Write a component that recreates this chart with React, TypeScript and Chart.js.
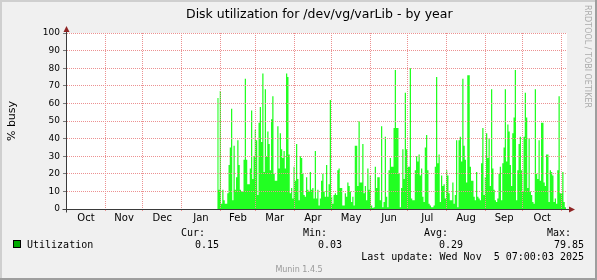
import { useEffect, useRef } from 'react';
import { Chart, registerables } from 'chart.js';

Chart.register(...registerables);

// x axis in days counted from 1 Oct 2024 00:00
const axisStartDay = 0.3;
const axisEndDay = 400.3;
const monthStarts = [0, 31, 61, 92, 123, 151, 182, 212, 243, 273, 304, 335, 365, 396];
const monthLabels = ['Oct', 'Nov', 'Dec', 'Jan', 'Feb', 'Mar', 'Apr', 'May', 'Jun', 'Jul', 'Aug', 'Sep', 'Oct'];
const yGridValues = [0, 5, 10, 15, 20, 25, 30, 35, 40, 45, 50, 55, 60, 65, 70, 75, 80, 85, 90, 95, 100];

const titleText = 'Disk utilization for /dev/vg/varLib - by year';
const yAxisTitle = '% busy';
const watermark = 'RRDTOOL / TOBI OETIKER';
const seriesName = 'Utilization';
const legendHeaders = ['Cur:', 'Min:', 'Avg:', 'Max:'];
const legendValues = ['0.15', '0.03', '0.29', '79.85'];
const lastUpdate = 'Last update: Wed Nov  5 07:00:03 2025';
const footer = 'Munin 1.4.5';

// daily values, first day = dataStartDay
const dataStartDay = 120.5;
const utilization = [
  // late Jan - Feb
  63, 11, 67, 3, 11, 5, 3, 3, 9, 25, 35, 57, 5, 36, 11, 18, 39, 25, 11, 10,
  10, 28, 74, 28, 14, 14, 23, 56, 17, 30, 45, 39, 8, 49, 58, 38, 77, 21, 68, 30,
  44, 37, 22, 51,
  // Mar - Apr
  64, 20, 16, 16, 47, 23, 43, 34, 29, 33, 23, 77, 75, 31, 9, 12, 6, 24, 16, 37,
  17, 5, 30, 29, 20, 8, 7, 18, 11, 10, 21, 11, 12, 6, 33, 6, 11, 2, 6, 16,
  20, 10, 7, 25, 7, 14,
  // May - Jun
  62, 7, 3, 8, 9, 8, 22, 23, 12, 12, 2, 2, 9, 7, 15, 13, 10, 4, 7, 2,
  36, 36, 13, 50, 15, 15, 37, 9, 13, 5, 23, 11, 19, 2, 0.5, 1, 24, 12, 18, 18,
  5, 47, 1, 4, 41, 7, 1,
  // Jun - Jul
  22, 29, 24, 24, 46, 79, 46, 46, 20, 1, 12, 34, 17, 66, 34, 24, 24, 80, 6, 5,
  5, 22, 30, 27, 31, 19, 23, 7, 4, 35, 42, 22, 3, 2, 1, 1, 2, 24, 75, 26,
  31, 4, 19, 13, 14, 6, 22,
  // Aug - Sep
  19, 9, 5, 5, 15, 3, 8, 39, 1, 39, 41, 27, 74, 36, 28, 15, 76, 76, 24, 16,
  16, 7, 5, 21, 7, 6, 5, 26, 46, 8, 18, 43, 29, 40, 13, 68, 23, 11, 5, 4,
  6, 20, 24, 5, 26, 35,
  // Sep - Nov
  68, 27, 48, 44, 25, 13, 43, 52, 79, 5, 22, 37, 41, 22, 10, 41, 66, 52, 12, 40,
  10, 8, 4, 3, 68, 20, 17, 39, 16, 49, 49, 15, 13, 31, 31, 4, 22, 21, 19, 4,
  6, 3, 22, 64, 9, 9, 21, 4, 1,
];

const majorGrid = 'rgb(236, 145, 145)';
const minorGrid = 'rgb(205, 205, 205)';
const areaColor = '#22ff22';
const arrowColor = '#8f2525';

const decorPlugin = {
  id: 'decor',
  beforeDraw(chart: any) {
    const { ctx, chartArea: a, width, height } = chart;
    ctx.save();
    ctx.fillStyle = '#f0f0f0';
    ctx.fillRect(0, 0, width, height);
    ctx.fillStyle = '#cfcfcf';
    ctx.fillRect(0, 0, width, 2);
    ctx.fillRect(0, 0, 2, height);
    ctx.fillStyle = '#9e9e9e';
    ctx.fillRect(0, height - 2, width, 2);
    ctx.fillRect(width - 2, 0, 2, height);
    ctx.fillStyle = '#ffffff';
    ctx.fillRect(a.left, a.top, a.right - a.left, a.bottom - a.top);
    ctx.restore();
  },
  afterDraw(chart: any) {
    const { ctx, chartArea: a } = chart;
    const yScale = chart.scales.y;
    const y0 = Math.round(yScale.getPixelForValue(0)) + 0.5;
    const xl = Math.round(a.left) - 0.5;
    ctx.save();
    // axes
    ctx.strokeStyle = '#3a3a3a';
    ctx.lineWidth = 1;
    ctx.beginPath();
    ctx.moveTo(xl - 4, y0);
    ctx.lineTo(a.right + 3, y0);
    ctx.moveTo(xl, y0 + 3);
    ctx.lineTo(xl, a.top - 3);
    ctx.stroke();
    // arrows
    ctx.fillStyle = arrowColor;
    ctx.beginPath();
    ctx.moveTo(xl, a.top - 7);
    ctx.lineTo(xl - 3, a.top - 1);
    ctx.lineTo(xl + 3, a.top - 1);
    ctx.closePath();
    ctx.fill();
    ctx.beginPath();
    ctx.moveTo(a.right + 8, y0);
    ctx.lineTo(a.right + 2, y0 - 3);
    ctx.lineTo(a.right + 2, y0 + 3);
    ctx.closePath();
    ctx.fill();

    // title
    ctx.fillStyle = '#000';
    ctx.font = '12.5px "DejaVu Sans"';
    ctx.textAlign = 'left';
    ctx.textBaseline = 'alphabetic';
    ctx.fillText(titleText, 186, 18);

    // y axis title
    ctx.save();
    ctx.translate(15, 121);
    ctx.rotate(-Math.PI / 2);
    ctx.textAlign = 'center';
    ctx.font = '11px "DejaVu Sans"';
    ctx.fillText(yAxisTitle, 0, 0);
    ctx.restore();

    // watermark
    ctx.save();
    ctx.translate(585, 5);
    ctx.rotate(Math.PI / 2);
    ctx.textAlign = 'left';
    ctx.textBaseline = 'alphabetic';
    ctx.fillStyle = '#acacac';
    ctx.font = '8px "DejaVu Sans"';
    ctx.fillText(watermark, 0, 0);
    ctx.restore();

    // legend
    ctx.font = '10px "DejaVu Sans Mono"';
    ctx.fillStyle = '#000';
    ctx.textAlign = 'right';
    const headerRight = [205, 327, 448, 571];
    const valueRight = [219, 342, 463, 584];
    legendHeaders.forEach((h, i) => ctx.fillText(h, headerRight[i], 236));
    legendValues.forEach((v, i) => ctx.fillText(v, valueRight[i], 248));
    ctx.fillText(lastUpdate, 584, 260);
    ctx.textAlign = 'left';
    ctx.fillText(seriesName, 27, 248);
    ctx.fillStyle = '#00aa00';
    ctx.fillRect(13, 240, 8, 8);
    ctx.strokeStyle = '#000';
    ctx.strokeRect(13.5, 240.5, 7, 7);

    // footer
    ctx.fillStyle = '#999999';
    ctx.font = '8px "DejaVu Sans"';
    ctx.textAlign = 'center';
    ctx.fillText(footer, 299, 272);
    ctx.restore();
  },
};

export default function App() {
  const ref = useRef<HTMLCanvasElement>(null);
  useEffect(() => {
    document.body.style.margin = '0';
    const canvas = ref.current;
    if (!canvas) return;
    const points = utilization.map((v, i) => ({ x: dataStartDay + i, y: v }));
    points.push({ x: dataStartDay + utilization.length, y: utilization[utilization.length - 1] });
    const gridStarts = monthStarts.filter((d) => d > axisStartDay && d < axisEndDay);
    const monthMids = monthLabels.map((_, i) => (monthStarts[i] + monthStarts[i + 1]) / 2);

    const chart = new Chart(canvas, {
      type: 'line',
      data: {
        datasets: [
          {
            label: seriesName,
            data: points,
            stepped: true,
            fill: 'origin',
            backgroundColor: areaColor,
            borderColor: 'rgba(0,0,0,0)',
            borderWidth: 0,
            pointRadius: 0,
            pointHoverRadius: 0,
          },
        ],
      },
      options: {
        responsive: false,
        animation: false,
        events: [],
        layout: { padding: { left: 0, top: 33, right: 30, bottom: 0 } },
        plugins: {
          legend: { display: false },
          tooltip: { enabled: false },
          title: { display: false },
        },
        scales: {
          x: {
            type: 'linear',
            position: 'bottom',
            min: axisStartDay,
            max: axisEndDay,
            afterBuildTicks: (s: any) => {
              s.ticks = gridStarts.map((v) => ({ value: v }));
            },
            afterFit: (s: any) => {
              s.height = 0;
            },
            ticks: { display: false },
            grid: {
              z: 1,
              color: majorGrid,
              lineWidth: 1,
              drawTicks: true,
              tickLength: 2,
              tickColor: majorGrid,
            },
            border: { display: false, dash: [1, 1] },
          },
          x2: {
            type: 'linear',
            axis: 'x',
            position: 'bottom',
            min: axisStartDay,
            max: axisEndDay,
            afterBuildTicks: (s: any) => {
              s.ticks = monthMids.map((v) => ({ value: v }));
            },
            afterFit: (s: any) => {
              s.height = 71;
            },
            grid: { display: false, drawTicks: false },
            border: { display: false },
            ticks: {
              autoSkip: false,
              maxRotation: 0,
              minRotation: 0,
              padding: 3,
              color: '#000',
              font: { family: 'DejaVu Sans', size: 10 },
              callback: (_v: any, i: number) => monthLabels[i],
            },
          },
          y: {
            type: 'linear',
            min: 0,
            max: 100,
            afterFit: (s: any) => {
              s.width = 67;
            },
            afterBuildTicks: (s: any) => {
              s.ticks = yGridValues.map((v) => ({ value: v }));
            },
            ticks: {
              padding: 3,
              color: '#000',
              font: { family: 'DejaVu Sans', size: 9 },
              callback: (v: any) => (Number(v) % 10 === 0 ? String(v) : ''),
            },
            grid: {
              z: 1,
              lineWidth: 1,
              color: (c: any) => (c.tick && c.tick.value % 10 === 0 ? majorGrid : minorGrid),
              tickLength: 4,
              tickColor: (c: any) => (c.tick && c.tick.value % 10 === 0 ? '#777777' : 'rgba(0,0,0,0)'),
            },
            border: { display: false, dash: [1, 1] },
          },
        },
      } as any,
      plugins: [decorPlugin],
    });
    return () => chart.destroy();
  }, []);

  return (
    <div style={{ width: 597, height: 280 }}>
      <canvas ref={ref} width={597} height={280} style={{ display: 'block', width: 597, height: 280 }} />
    </div>
  );
}
